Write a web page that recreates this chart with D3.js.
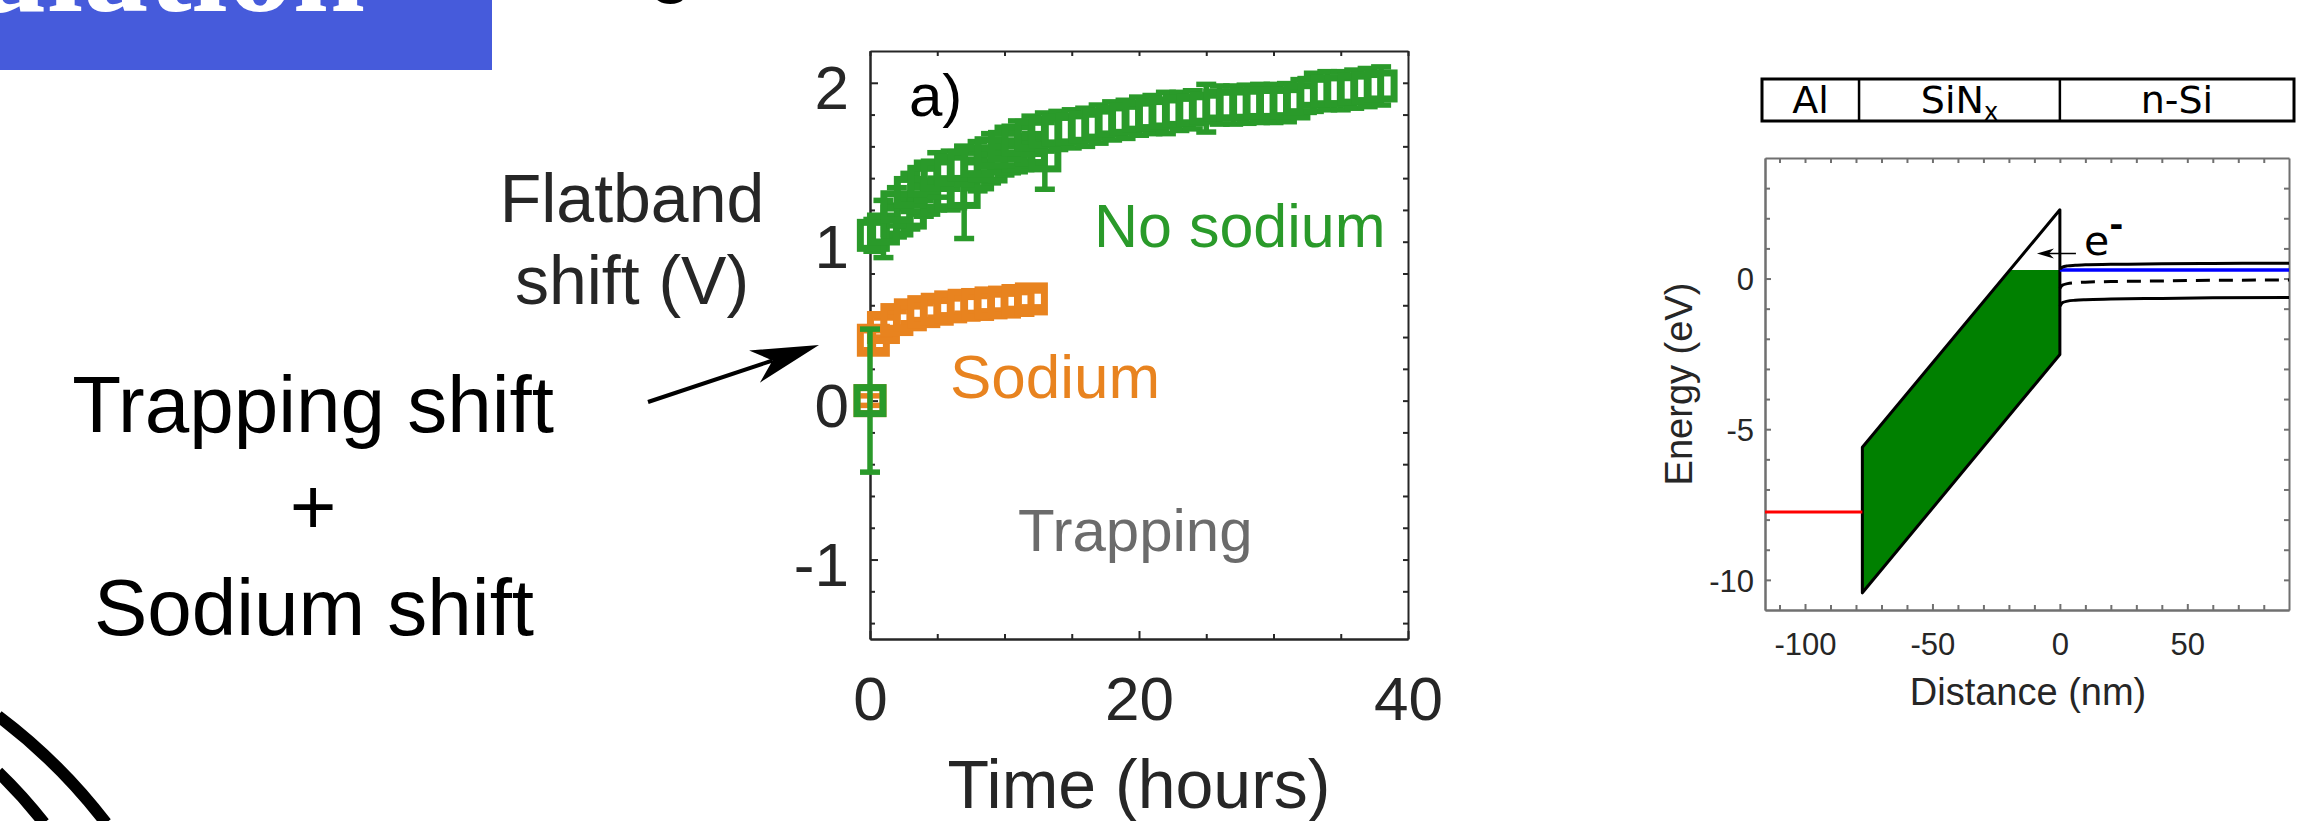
<!DOCTYPE html>
<html>
<head>
<meta charset="utf-8">
<title>Flatband shift and band diagram</title>
<script src="https://cdn.jsdelivr.net/npm/d3@7"></script>
<style>
  html, body { margin: 0; padding: 0; background: #fff; }
  svg { display: block; }
</style>
</head>
<body>
<div id="slide"></div>
<script>
// ---- panel a: flatband shift vs time ----
// no sodium, main run
const greenHours = [0, 0.25, 1, 2, 3, 4, 5, 6, 7, 8, 9, 10, 11, 12, 13, 14, 15, 16, 17, 18, 19, 20,
    21, 22, 23, 24, 25, 26, 27, 28, 29, 30, 31, 32, 33, 34, 35, 36, 37, 38];
const greenShift = [0, 1.04, 1.08, 1.22, 1.31, 1.38, 1.42, 1.45, 1.48, 1.51, 1.56, 1.6, 1.64, 1.67, 1.69, 1.7, 1.71, 1.72, 1.74, 1.76, 1.77, 1.79,
    1.8, 1.81, 1.82, 1.83, 1.84, 1.86, 1.86, 1.865, 1.87, 1.87, 1.875, 1.9, 1.94, 1.95, 1.95, 1.96, 1.97, 1.98];
const greenErr = [0.45, 0.1, 0.18, 0.12, 0.12, 0.12, 0.14, 0.12, 0.12, 0.12, 0.12, 0.12, 0.12, 0.12, 0.12, 0.12, 0.12, 0.12, 0.12, 0.12, 0.12, 0.12,
    0.12, 0.13, 0.12, 0.12, 0.15, 0.12, 0.12, 0.12, 0.12, 0.12, 0.12, 0.12, 0.12, 0.12, 0.12, 0.12, 0.12, 0.12];
// no sodium, second run of early points (lower edge of the cluster)
const greenHours2 = [2, 3, 4, 5, 6, 7, 8, 9, 10, 11, 12, 13];
const greenShift2 = [1.13, 1.18, 1.26, 1.3, 1.3, 1.31, 1.42, 1.47, 1.52, 1.54, 1.58, 1.54];
const greenErr2 = [0.1, 0.1, 0.1, 0.1, 0.1, 0.29, 0.1, 0.1, 0.1, 0.1, 0.1, 0.21];

const orangeHours = [0, 0.25, 1, 2, 3, 4, 5, 6, 7, 8, 9, 10, 11, 12];
const orangeShift = [0, 0.38, 0.46, 0.51, 0.54, 0.56, 0.575, 0.59, 0.6, 0.605, 0.615, 0.62, 0.63, 0.64];
const orangeErr = [0.03, 0.06, 0.06, 0.05, 0.05, 0.05, 0.05, 0.05, 0.05, 0.05, 0.05, 0.05, 0.05, 0.05];

const hourTicks = [0, 5, 10, 15, 20, 25, 30, 35, 40];
const hourLabels = [0, 20, 40];
const shiftTicks = [-1.4, -1.2, -1, -0.8, -0.6, -0.4, -0.2, 0, 0.2, 0.4, 0.6, 0.8, 1, 1.2, 1.4, 1.6, 1.8, 2];
const shiftLabels = [-1, 0, 1, 2];

// ---- band diagram (right) ----
const layerNames = ["Al", "SiN", "n-Si"];
const layerEdges = [-78.8, 0];           // Al | SiNx | n-Si boundaries (nm)
const sinEdges = [-77.5, 0];             // SiNx slab in the band plot (nm)
const sinCB = [-5.6, 2.28];              // conduction band at the two SiNx edges (eV)
const sinVB = [-10.43, -2.52];           // valence band at the two SiNx edges (eV)
const alFermi = -7.75;
const fermiLevel = 0.28;
const siDist = [0, 1, 3, 6, 10, 20, 40, 60, 89.9];
const siCB = [0.31, 0.38, 0.42, 0.44, 0.46, 0.47, 0.49, 0.5, 0.51];
const siEi = [-0.33, -0.22, -0.17, -0.14, -0.12, -0.1, -0.08, -0.06, -0.05];
const siVB = [-0.92, -0.8, -0.75, -0.72, -0.7, -0.68, -0.66, -0.64, -0.63];
const eArrow = { from: 6.3, to: -9, energy: 0.83 };
const distTicks = [-110, -100, -90, -80, -70, -60, -50, -40, -30, -20, -10, 0, 10, 20, 30, 40, 50, 60, 70, 80];
const distLabels = [-100, -50, 0, 50];
const energyTicks = [-10, -9, -8, -7, -6, -5, -4, -3, -2, -1, 0, 1, 2, 3];
const energyLabels = [-10, -5, 0];

const GREEN = "#2a9a2a", ORANGE = "#e8831f", INK = "#262626";
const SANS = "'Liberation Sans', Arial, sans-serif";
const DEJAVU = "'DejaVu Sans', sans-serif";

const svg = d3.select("#slide").append("svg")
    .attr("width", 2304)
    .attr("height", 821);

svg.append("rect").attr("width", 2304).attr("height", 821).attr("fill", "#fff");

// title bar, mostly cut off at the top of the slide
svg.append("rect")
    .attr("x", 0).attr("y", 0).attr("width", 492).attr("height", 70)
    .attr("fill", "#465bdb");
svg.append("text")
    .attr("x", 365).attr("y", 11)
    .attr("text-anchor", "end")
    .attr("font-family", "'Liberation Serif', serif")
    .attr("font-weight", "bold")
    .attr("font-size", 130)
    .attr("fill", "#fff")
    .text("ulation");
svg.append("text")
    .attr("x", 671).attr("y", -13)
    .attr("text-anchor", "middle")
    .attr("font-family", SANS)
    .attr("font-size", 80)
    .attr("fill", "#000")
    .text("g");

// decorative arcs bottom-left
const arcs = svg.append("g").attr("fill", "none").attr("stroke", "#000").attr("stroke-width", 12);
arcs.append("path").attr("d", "M-2,716 A560,560 0 0 1 106,823");
arcs.append("path").attr("d", "M-2,772 A480,480 0 0 1 44,823");

// left side text
const leftText = svg.append("g")
    .attr("font-family", SANS)
    .attr("font-size", 80)
    .attr("fill", "#000")
    .attr("text-anchor", "middle");
leftText.append("text").attr("x", 313).attr("y", 432).text("Trapping shift");
leftText.append("text").attr("x", 313).attr("y", 534).text("+");
leftText.append("text").attr("x", 314).attr("y", 635).text("Sodium shift");

const ylab = svg.append("g")
    .attr("font-family", SANS)
    .attr("font-size", 68)
    .attr("fill", INK)
    .attr("text-anchor", "middle");
ylab.append("text").attr("x", 632).attr("y", 222).text("Flatband");
ylab.append("text").attr("x", 632).attr("y", 304).text("shift (V)");

// arrow pointing at the plot
(function () {
    const a = [648, 402], t = [819, 345];
    const len = Math.hypot(t[0] - a[0], t[1] - a[1]);
    const u = [(t[0] - a[0]) / len, (t[1] - a[1]) / len];
    const n = [-u[1], u[0]];
    const L = 68, w = 17;
    const back = [t[0] - L * u[0], t[1] - L * u[1]];
    const notch = [t[0] - 0.72 * L * u[0], t[1] - 0.72 * L * u[1]];
    svg.append("line")
        .attr("x1", a[0]).attr("y1", a[1])
        .attr("x2", notch[0]).attr("y2", notch[1])
        .attr("stroke", "#000").attr("stroke-width", 4);
    svg.append("path")
        .attr("d", `M${t}L${back[0] + w * n[0]},${back[1] + w * n[1]}L${notch}L${back[0] - w * n[0]},${back[1] - w * n[1]}Z`)
        .attr("fill", "#000");
})();

// ---------------- panel a ----------------
const xA = d3.scaleLinear().domain([0, 40]).range([870, 1408]);
const yA = d3.scaleLinear().domain([-1.5, 2.2]).range([639, 51]);
const gA = svg.append("g");

function styleAxis(sel, color, width) {
    sel.select(".domain").attr("stroke", color).attr("stroke-width", width);
    sel.selectAll(".tick line").attr("stroke", color).attr("stroke-width", width);
}

const minorHours = hourTicks.filter(d => !hourLabels.includes(d));
const minorShift = shiftTicks.filter(d => !shiftLabels.includes(d));

// bottom
gA.append("g").attr("transform", `translate(0,${yA.range()[0]})`)
    .call(d3.axisBottom(xA).tickValues(minorHours).tickSizeInner(-5).tickSizeOuter(0).tickFormat(""))
    .call(s => styleAxis(s, INK, 2));
gA.append("g").attr("transform", `translate(0,${yA.range()[0]})`)
    .call(d3.axisBottom(xA).tickValues(hourLabels).tickSizeInner(-8).tickSizeOuter(0).tickFormat(d => d))
    .call(s => styleAxis(s, INK, 2))
    .call(s => s.selectAll("text").attr("y", 81).attr("dy", null)
        .attr("font-family", SANS).attr("font-size", 62).attr("fill", INK));
// top
gA.append("g").attr("transform", `translate(0,${yA.range()[1]})`)
    .call(d3.axisTop(xA).tickValues(hourTicks).tickSizeInner(-5).tickSizeOuter(0).tickFormat(""))
    .call(s => styleAxis(s, INK, 2));
// left
gA.append("g").attr("transform", `translate(${xA.range()[0]},0)`)
    .call(d3.axisLeft(yA).tickValues(minorShift).tickSizeInner(-5).tickSizeOuter(0).tickFormat(""))
    .call(s => styleAxis(s, INK, 2));
gA.append("g").attr("transform", `translate(${xA.range()[0]},0)`)
    .call(d3.axisLeft(yA).tickValues(shiftLabels).tickSizeInner(-8).tickSizeOuter(0).tickFormat(d => String(d)))
    .call(s => styleAxis(s, INK, 2))
    .call(s => s.selectAll("text").attr("x", -21).attr("dy", "0.42em")
        .attr("font-family", SANS).attr("font-size", 62).attr("fill", INK));
// right
gA.append("g").attr("transform", `translate(${xA.range()[1]},0)`)
    .call(d3.axisRight(yA).tickValues(shiftTicks).tickSizeInner(-5).tickSizeOuter(0).tickFormat(""))
    .call(s => styleAxis(s, INK, 2));

gA.append("text")
    .attr("x", d3.mean(xA.range())).attr("y", 808)
    .attr("text-anchor", "middle")
    .attr("font-family", SANS).attr("font-size", 68).attr("fill", INK)
    .text("Time (hours)");

// error bars with square markers
function drawSeries(hours, shift, err, color) {
    const pts = hours.map((h, i) => ({ h: h, v: shift[i], e: err[i] }));
    const g = gA.append("g").attr("stroke", color).attr("fill", "none");
    pts.forEach(d => {
        const cx = xA(d.h), y0 = yA(d.v - d.e), y1 = yA(d.v + d.e);
        g.append("line").attr("x1", cx).attr("x2", cx).attr("y1", y0).attr("y2", y1).attr("stroke-width", 5.5);
        g.append("line").attr("x1", cx - 10).attr("x2", cx + 10).attr("y1", y0).attr("y2", y0).attr("stroke-width", 5.5);
        g.append("line").attr("x1", cx - 10).attr("x2", cx + 10).attr("y1", y1).attr("y2", y1).attr("stroke-width", 5.5);
        g.append("rect")
            .attr("x", cx - 13).attr("y", yA(d.v) - 13)
            .attr("width", 26).attr("height", 26)
            .attr("stroke-width", 7);
    });
}
drawSeries(orangeHours, orangeShift, orangeErr, ORANGE);
drawSeries(greenHours2, greenShift2, greenErr2, GREEN);
drawSeries(greenHours, greenShift, greenErr, GREEN);

const labA = gA.append("g").attr("font-family", SANS);
labA.append("text").attr("x", 909).attr("y", 116).attr("font-size", 60).attr("fill", "#000").text("a)");
labA.append("text").attr("x", 1094).attr("y", 247).attr("font-size", 61).attr("fill", GREEN).text("No sodium");
labA.append("text").attr("x", 950).attr("y", 398).attr("font-size", 62).attr("fill", ORANGE).text("Sodium");
labA.append("text").attr("x", 1018).attr("y", 551).attr("font-size", 60).attr("fill", "#6b6b6b").text("Trapping");

// ---------------- band diagram ----------------
const xD = d3.scaleLinear().domain([-115.7, 89.9]).range([1765, 2289]);
const yE = d3.scaleLinear().domain([-11, 4]).range([610, 158]);
const gB = svg.append("g");
const AX = "#707070";

// material bar above the plot
const barX = [xD.range()[0] - 3, xD.range()[1] + 5];
const cuts = [barX[0], xD(layerEdges[0]), xD(layerEdges[1]), barX[1]];
gB.append("rect")
    .attr("x", barX[0]).attr("y", 79)
    .attr("width", barX[1] - barX[0]).attr("height", 42)
    .attr("fill", "none").attr("stroke", "#000").attr("stroke-width", 3);
layerEdges.forEach(e => {
    gB.append("line").attr("x1", xD(e)).attr("x2", xD(e)).attr("y1", 79).attr("y2", 121)
        .attr("stroke", "#000").attr("stroke-width", 2.5);
});
layerNames.forEach((name, i) => {
    const t = gB.append("text")
        .attr("x", (cuts[i] + cuts[i + 1]) / 2).attr("y", 113)
        .attr("text-anchor", "middle")
        .attr("font-family", DEJAVU).attr("font-size", 38).attr("fill", "#000")
        .text(name);
    if (name === "SiN") t.append("tspan").attr("font-size", 24).attr("dy", 7).text("x");
});

// axes box with inward ticks
const minorDist = distTicks.filter(d => !distLabels.includes(d));
const minorEnergy = energyTicks.filter(d => !energyLabels.includes(d));
gB.append("g").attr("transform", `translate(0,${yE.range()[0]})`)
    .call(d3.axisBottom(xD).tickValues(minorDist).tickSizeInner(-5).tickSizeOuter(0).tickFormat(""))
    .call(s => styleAxis(s, AX, 2));
gB.append("g").attr("transform", `translate(0,${yE.range()[0]})`)
    .call(d3.axisBottom(xD).tickValues(distLabels).tickSizeInner(-6).tickSizeOuter(0).tickFormat(d => String(d)))
    .call(s => styleAxis(s, AX, 2))
    .call(s => s.selectAll("text").attr("y", 45).attr("dy", null)
        .attr("font-family", SANS).attr("font-size", 31).attr("fill", INK));
gB.append("g").attr("transform", `translate(0,${yE.range()[1]})`)
    .call(d3.axisTop(xD).tickValues(distTicks).tickSizeInner(-5).tickSizeOuter(0).tickFormat(""))
    .call(s => styleAxis(s, AX, 2));
gB.append("g").attr("transform", `translate(${xD.range()[0]},0)`)
    .call(d3.axisLeft(yE).tickValues(minorEnergy).tickSizeInner(-5).tickSizeOuter(0).tickFormat(""))
    .call(s => styleAxis(s, AX, 2));
gB.append("g").attr("transform", `translate(${xD.range()[0]},0)`)
    .call(d3.axisLeft(yE).tickValues(energyLabels).tickSizeInner(-6).tickSizeOuter(0).tickFormat(d => String(d)))
    .call(s => styleAxis(s, AX, 2))
    .call(s => s.selectAll("text").attr("x", -11).attr("dy", "0.36em")
        .attr("font-family", SANS).attr("font-size", 31).attr("fill", INK));
gB.append("g").attr("transform", `translate(${xD.range()[1]},0)`)
    .call(d3.axisRight(yE).tickValues(energyTicks).tickSizeInner(-5).tickSizeOuter(0).tickFormat(""))
    .call(s => styleAxis(s, AX, 2));

gB.append("text")
    .attr("x", 2028).attr("y", 705)
    .attr("text-anchor", "middle")
    .attr("font-family", SANS).attr("font-size", 38).attr("fill", INK)
    .text("Distance (nm)");
gB.append("text")
    .attr("transform", `translate(1692,${d3.mean(yE.range())}) rotate(-90)`)
    .attr("text-anchor", "middle")
    .attr("font-family", SANS).attr("font-size", 38).attr("fill", INK)
    .text("Energy (eV)");

// filled states in the SiNx below the Fermi level
const xCross = d3.scaleLinear().domain(sinCB).range(sinEdges)(fermiLevel);
const fillPts = [
    [sinEdges[0], sinCB[0]], [xCross, fermiLevel], [sinEdges[1], fermiLevel],
    [sinEdges[1], sinVB[1]], [sinEdges[0], sinVB[0]]
];
gB.append("path")
    .attr("d", "M" + fillPts.map(p => [xD(p[0]), yE(p[1])].join(",")).join("L") + "Z")
    .attr("fill", "#008000");

// SiNx band edges
const slab = [[sinEdges[0], sinVB[0]], [sinEdges[0], sinCB[0]], [sinEdges[1], sinCB[1]], [sinEdges[1], sinVB[1]]];
gB.append("path")
    .attr("d", "M" + slab.map(p => [xD(p[0]), yE(p[1])].join(",")).join("L") + "Z")
    .attr("fill", "none").attr("stroke", "#000").attr("stroke-width", 3).attr("stroke-linejoin", "round");

// Al Fermi level
gB.append("line")
    .attr("x1", xD.range()[0]).attr("x2", xD(sinEdges[0]))
    .attr("y1", yE(alFermi)).attr("y2", yE(alFermi))
    .attr("stroke", "#ff0000").attr("stroke-width", 3);

// silicon bands
gB.append("line")
    .attr("x1", xD(0)).attr("x2", xD.range()[1])
    .attr("y1", yE(fermiLevel)).attr("y2", yE(fermiLevel))
    .attr("stroke", "#0000ff").attr("stroke-width", 3.5);
const siLine = d3.line().curve(d3.curveMonotoneX).x(d => xD(d[0])).y(d => yE(d[1]));
gB.append("path").attr("d", siLine(siDist.map((d, i) => [d, siCB[i]])))
    .attr("fill", "none").attr("stroke", "#000").attr("stroke-width", 3);
gB.append("path").attr("d", siLine(siDist.map((d, i) => [d, siEi[i]])))
    .attr("fill", "none").attr("stroke", "#000").attr("stroke-width", 3).attr("stroke-dasharray", "14,9");
gB.append("path").attr("d", siLine(siDist.map((d, i) => [d, siVB[i]])))
    .attr("fill", "none").attr("stroke", "#000").attr("stroke-width", 3);

// electron injection arrow
const ax0 = xD(eArrow.from), ax1 = xD(eArrow.to), ay = yE(eArrow.energy);
gB.append("line").attr("x1", ax0).attr("x2", ax1 + 6).attr("y1", ay).attr("y2", ay)
    .attr("stroke", "#000").attr("stroke-width", 1.6);
gB.append("path")
    .attr("d", `M${ax1},${ay}L${ax1 + 17},${ay - 5}L${ax1 + 12},${ay}L${ax1 + 17},${ay + 5}Z`)
    .attr("fill", "#000");
const eLab = gB.append("text")
    .attr("x", ax0 + 8).attr("y", ay + 1)
    .attr("font-family", DEJAVU).attr("font-size", 41).attr("fill", "#000")
    .text("e");
eLab.append("tspan").attr("dy", -19).attr("font-size", 34).attr("font-weight", "bold").text("-");
</script>
</body>
</html>
